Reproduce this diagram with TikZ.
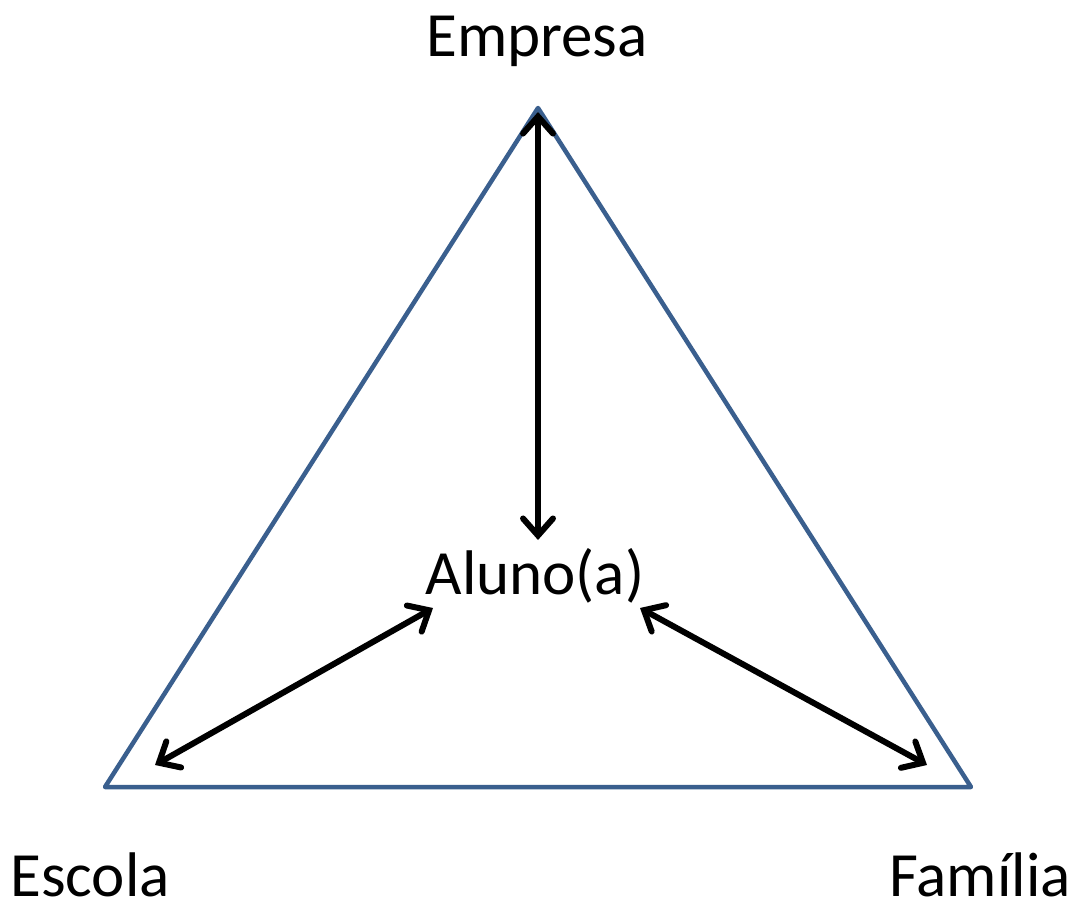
\documentclass[tikz,border=0pt]{standalone}
\usepackage{fontspec}
\setmainfont{Carlito}
\usepackage{xcolor}
\usepackage{tikz}
\usetikzlibrary{arrows.meta}
\definecolor{triblue}{HTML}{3A5F8E}
\begin{document}
\begin{tikzpicture}[x=1pt, y=-1pt,
    label/.style={font=\fontsize{63}{70}\selectfont, anchor=base, inner sep=0pt, text depth=0pt},
    link/.style={line width=6pt, {Straight Barb[length=17pt,width=30pt,line cap=round]}-{Straight Barb[length=17pt,width=30pt,line cap=round]}}]
        \useasboundingbox (0,0) rectangle (1074,904);
        % Triangle corners
        \coordinate (top) at (538,108);
        \coordinate (bl) at (105,787);
        \coordinate (br) at (971,787);
        \draw[triblue, line width=4.5pt, line join=round] (top) -- (bl) -- (br) -- cycle;
        % Labels
        \node[label] (empresa) at (537,57) {Empresa};
        \node[label] (aluno) at (535,594) {Aluno(a)};
        \node[label] (escola) at (90,896) {Escola};
        \node[label] (familia) at (980,896) {Família};
        % Arrow ends
        \coordinate (e1) at (538,112);
        \coordinate (e2) at (538,540);
        \coordinate (s1) at (155,765);
        \coordinate (s2) at (433,608);
        \coordinate (f1) at (640,608);
        \coordinate (f2) at (927,765);
        \draw[link] (e1) -- (e2);
        \draw[link] (s1) -- (s2);
        \draw[link] (f1) -- (f2);
      \end{tikzpicture}
\end{document}
